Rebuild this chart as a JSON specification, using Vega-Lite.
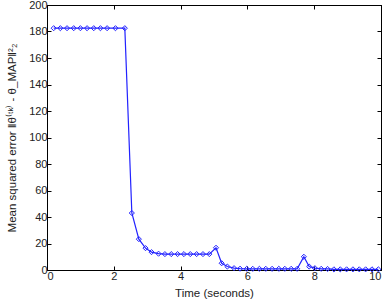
{
  "$schema": "https://vega.github.io/schema/vega-lite/v6.json",
  "width": 334,
  "height": 265,
  "autosize": "none",
  "padding": {"left": 47, "top": 5, "right": 7, "bottom": 32},
  "background": "white",
  "config": {
    "view": {"stroke": "black", "strokeWidth": 1},
    "axis": {
      "labelFont": "Liberation Sans",
      "titleFont": "Liberation Sans",
      "labelFontSize": 11,
      "titleFontSize": 11.5,
      "titleFontWeight": "normal",
      "labelColor": "#222",
      "titleColor": "#222",
      "domainColor": "black",
      "tickColor": "black",
      "grid": false,
      "tickSize": -4,
      "labelPadding": 4
    }
  },
  "data": {
    "values": [
      {"t": 0.2, "v": 182.5}, {"t": 0.4, "v": 182.5}, {"t": 0.6, "v": 182.5},
      {"t": 0.8, "v": 182.5}, {"t": 1.0, "v": 182.5}, {"t": 1.2, "v": 182.5},
      {"t": 1.4, "v": 182.5}, {"t": 1.6, "v": 182.5}, {"t": 1.8, "v": 182.5},
      {"t": 2.05, "v": 182.5}, {"t": 2.33, "v": 182.5},
      {"t": 2.54, "v": 43}, {"t": 2.75, "v": 23.3}, {"t": 2.95, "v": 16.5},
      {"t": 3.13, "v": 13.5}, {"t": 3.34, "v": 12.3}, {"t": 3.53, "v": 12},
      {"t": 3.72, "v": 12}, {"t": 3.91, "v": 12}, {"t": 4.10, "v": 12},
      {"t": 4.29, "v": 12}, {"t": 4.48, "v": 12}, {"t": 4.67, "v": 12},
      {"t": 4.86, "v": 12}, {"t": 5.06, "v": 16.8}, {"t": 5.23, "v": 5.1},
      {"t": 5.40, "v": 2.6}, {"t": 5.60, "v": 1.4}, {"t": 5.78, "v": 1.0},
      {"t": 5.98, "v": 0.9}, {"t": 6.16, "v": 0.9}, {"t": 6.36, "v": 0.9},
      {"t": 6.55, "v": 0.9}, {"t": 6.74, "v": 0.9}, {"t": 6.94, "v": 0.9},
      {"t": 7.12, "v": 0.9}, {"t": 7.31, "v": 0.9}, {"t": 7.49, "v": 0.9},
      {"t": 7.69, "v": 10}, {"t": 7.85, "v": 2.6}, {"t": 8.02, "v": 1.4},
      {"t": 8.21, "v": 0.9}, {"t": 8.40, "v": 0.8}, {"t": 8.59, "v": 0.5},
      {"t": 8.78, "v": 0.5}, {"t": 8.97, "v": 0.5}, {"t": 9.16, "v": 0.5},
      {"t": 9.35, "v": 0.5}, {"t": 9.54, "v": 0.5}, {"t": 9.73, "v": 0.5},
      {"t": 9.92, "v": 0.5}
    ]
  },
  "layer": [
    {
      "mark": {"type": "line", "color": "#2222ff", "strokeWidth": 1.2, "point": {"shape": "diamond", "filled": false, "size": 26, "color": "#2222ff", "strokeWidth": 1}},
      "encoding": {
        "x": {"field": "t", "type": "quantitative", "scale": {"domain": [0, 10], "nice": false},
              "axis": {"values": [0, 2, 4, 6, 8, 10], "title": "Time (seconds)", "titlePadding": 6}},
        "y": {"field": "v", "type": "quantitative", "scale": {"domain": [0, 200], "nice": false},
              "axis": {"values": [0, 20, 40, 60, 80, 100, 120, 140, 160, 180, 200], "title": "Mean squared error ‖θ⁽ᵗᵏ⁾ - θ_MAP‖²₂", "titlePadding": 11}}
      }
    },
    {
      "mark": {"type": "line", "opacity": 0},
      "encoding": {
        "x": {"field": "t", "type": "quantitative", "axis": {"orient": "top", "values": [0, 2, 4, 6, 8, 10], "labels": false, "title": null}},
        "y": {"field": "v", "type": "quantitative", "axis": {"orient": "right", "values": [0, 20, 40, 60, 80, 100, 120, 140, 160, 180, 200], "labels": false, "title": null}}
      }
    }
  ],
  "resolve": {"axis": {"x": "independent", "y": "independent"}}
}
